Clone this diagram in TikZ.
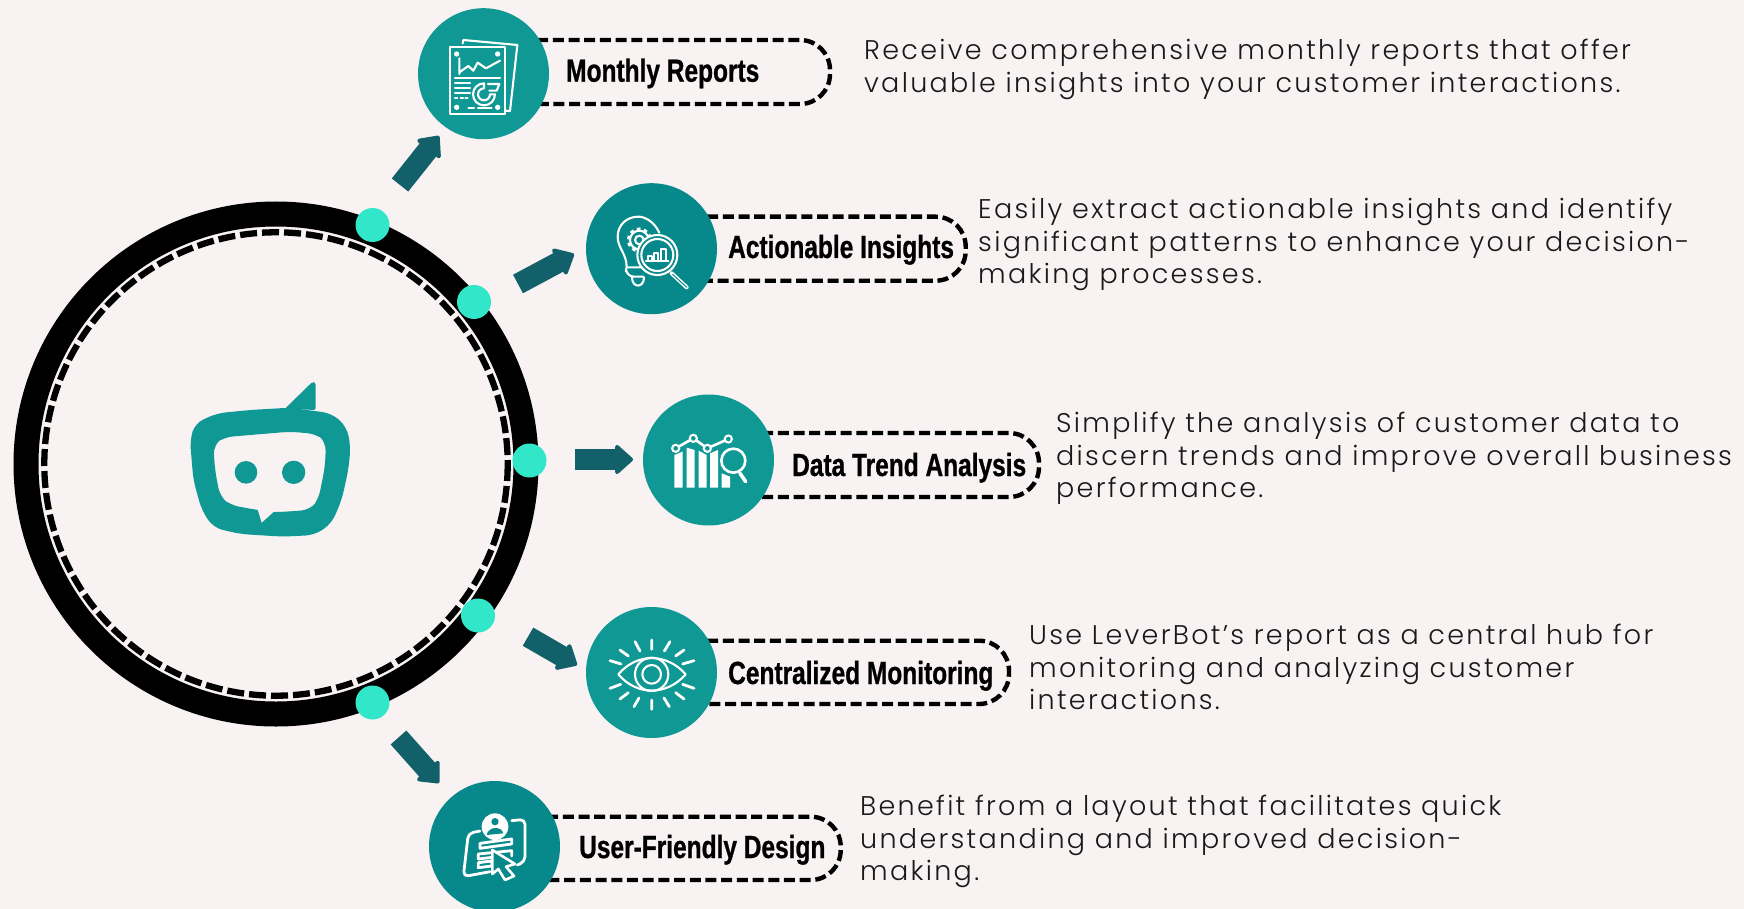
\documentclass[tikz,border=0pt]{standalone}
\usepackage{fontspec}
\usetikzlibrary{arrows.meta,calc}
\setmainfont{Poppins}
\newfontfamily\bodyfont[LetterSpace=8.5]{Poppins Light}
\newfontfamily\headfont[FakeStretch=0.765,FakeBold=0.8]{Liberation Sans Bold}
\definecolor{bgc}{HTML}{F8F2F3}
\definecolor{tealA}{HTML}{109895}
\definecolor{tealB}{HTML}{07888A}
\definecolor{dotc}{HTML}{31E6C9}
\definecolor{arrowc}{HTML}{12606A}
\tikzset{
  hub/.style={circle,minimum size=131pt,inner sep=0,draw=none},
  dotnode/.style={circle,minimum size=34pt,inner sep=0,fill=dotc},
  pill/.style={draw=black,line width=4.4pt,dash pattern=on 11pt off 4.7pt},
  headtxt/.style={anchor=base west,inner sep=0,font=\headfont\fontsize{32}{36}\selectfont,text=black},
  bodytxt/.style={anchor=north west,inner sep=0,align=left,text=black!90,font=\bodyfont\fontsize{27}{32.4}\selectfont},
  blockarrow/.style={draw=arrowc,line width=21pt,-{Triangle[length=19pt,width=33pt,round,line width=4pt,fill=arrowc]}},
  iconline/.style={draw=white,line width=2.1pt,line cap=round,line join=round},
  iconthick/.style={draw=white,line width=2.8pt,line cap=round,line join=round},
}
\newcommand{\pillpath}[4]{% start x, top, bottom, right
  \draw[pill,rounded corners=30pt] (#1,#2) -- (#4,#2) -- (#4,#3) -- (#1,#3);}
\begin{document}
\begin{tikzpicture}[x=1pt,y=-1pt]
\path[use as bounding box,fill=bgc] (0,0) rectangle (1744,909);

% ring
\coordinate (ringc) at (276,464);
\draw[black,line width=25pt] (ringc) circle[radius=250];
\draw[black,line width=6.3pt,dash pattern=on 17pt off 5pt] (ringc) circle[radius=231.7];

% logo
\begin{scope}[shift={(150,360)},scale=1/3]
\fill[tealA,even odd rule,rounded corners=9pt]
 (545,160) -- (590,200) -- (602,260) -- (595,330) -- (575,420) -- (545,490) -- (495,525) -- (400,530) -- (270,522) -- (190,503) -- (155,450) -- (130,360) -- (120,240) -- (135,190) -- (200,160) -- (300,150) -- (420,143) -- cycle
 (190,255) -- (220,232) -- (300,225) -- (420,215) -- (500,222) -- (528,245) -- (525,320) -- (505,420) -- (480,450) -- (375,457) -- (322,450) -- (240,435) -- (210,410) -- (195,330) -- cycle;
\fill[tealA,rounded corners=2pt] (405,146) -- (488,65) -- (497,67) -- (497,150) -- cycle;
\fill[bgc] (322,445) -- (335,488) -- (375,452) -- cycle;
\fill[tealA] (288,337) circle[radius=34] (431,337) circle[radius=35];
\end{scope}

% pills
\pillpath{490}{40}{104}{830}
\pillpath{660}{216.7}{280.7}{965.7}
\pillpath{715}{433}{497}{1039}
\pillpath{660}{640.7}{704}{1009}
\pillpath{500}{816.7}{880}{840.7}

% hubs
\node[hub,fill=tealA] (h1) at (483.5,73.7) {};
\node[hub,fill=tealB] (h2) at (651.5,248.7) {};
\node[hub,fill=tealA] (h3) at (708.5,460) {};
\node[hub,fill=tealA] (h4) at (651.5,672.5) {};
\node[hub,fill=tealB] (h5) at (494.5,846.5) {};

% dots
\node[dotnode] (d1) at (372.5,225) {};
\node[dotnode] (d2) at (474,302) {};
\node[dotnode] (d3) at (529.5,460.5) {};
\node[dotnode] (d4) at (478,615.5) {};
\node[dotnode] (d5) at (372.5,702.5) {};

% arrows
\coordinate (a1s) at (400,185); \coordinate (a1e) at (439,136);
\coordinate (a2s) at (518,284); \coordinate (a2e) at (574,254);
\coordinate (a3s) at (575,459.5); \coordinate (a3e) at (633,459.5);
\coordinate (a4s) at (528,636.7); \coordinate (a4e) at (577,665);
\coordinate (a5s) at (398.5,737.5); \coordinate (a5e) at (439,783);
\draw[blockarrow] (a1s) -- (a1e);
\draw[blockarrow] (a2s) -- (a2e);
\draw[blockarrow] (a3s) -- (a3e);
\draw[blockarrow] (a4s) -- (a4e);
\draw[blockarrow] (a5s) -- (a5e);

% icon 1
\begin{scope}[shift={(400,0)},scale=1/3]
\draw[iconline] (188,130) -- (190,120) -- (352,135) -- (330,333) -- (316,332);
\draw[iconline] (150,142) rectangle (315,343);
\fill[white] (170,162) circle[radius=8] (293,162) circle[radius=8] (170,322) circle[radius=8] (293,322) circle[radius=8];
\draw[iconline] (178,175) -- (178,222) (178,217) -- (205,198) -- (220,212) -- (233,188) -- (258,205) -- (300,182);
\draw[iconline] (165,234) -- (300,234) (165,248) -- (210,248) (165,263) -- (210,263) (165,278) -- (210,278);
\draw[iconline] (165,295) -- (172,295) (182,295) -- (189,295) (196,295) -- (203,295);
\draw[iconline] (205,325) -- (222,325) (234,325) -- (275,325);
\draw[iconline] (252,250) arc[start angle=270,end angle=0,radius=33] -- (270,283) arc[start angle=0,end angle=270,radius=18] -- cycle;
\draw[iconline] (264,252) -- (298,252) -- (290,272) -- (268,272);
\end{scope}

% icon 2
\begin{scope}[shift={(570,170)},scale=1/3]
\draw[iconline] (268,188) .. controls (250,150) and (220,140) .. (205,140) .. controls (170,140) and (143,165) .. (143,200) .. controls (143,235) and (170,250) .. (170,292);
\draw[iconline,rounded corners=8pt] (170,292) -- (215,292) (168,305) -- (168,320) -- (220,320);
\draw[iconline] (186,322) .. controls (186,355) and (222,355) .. (222,322);
\draw[white,line width=3pt,dash pattern=on 3.6pt off 3.4pt] (208,210) circle[radius=33];
\draw[iconline] (208,210) circle[radius=28] (208,210) circle[radius=13];
\fill[tealB] (262,255) circle[radius=60];
\draw[iconline] (262,255) circle[radius=60] (262,255) circle[radius=48];
\draw[white,line width=4pt,line cap=round] (305,310) -- (350,352);
\draw[tealB,line width=1pt,line cap=round] (308,313) -- (350,352);
\draw[iconline] (228,272) -- (295,272) (233,272) |- (245,258) -- (245,272) (252,272) |- (265,248) -- (265,272) (273,272) |- (288,238) -- (288,272);
\end{scope}

% icon 3
\begin{scope}[shift={(560,400)},scale=1/3]
\fill[white] (343,263) -- (343,165) -- (368,155) -- (368,263) -- cycle
 (380,263) -- (380,143) -- (404,150) -- (404,263) -- cycle
 (416,263) -- (416,152) -- (440,165) -- (440,263) -- cycle
 (450,263) -- (450,160) -- (474,150) -- (474,263) -- cycle
 (485,263) -- (485,220) -- (510,230) -- (510,263) -- cycle;
\fill[tealA] (520,182) circle[radius=42];
\draw[white,line width=2.6pt] (347,145) -- (400,115) -- (442,145) -- (505,117);
\fill[white] (347,145) circle[radius=14] (400,115) circle[radius=14] (442,145) circle[radius=14] (505,117) circle[radius=14];
\fill[tealA] (347,145) circle[radius=7] (400,115) circle[radius=7] (442,145) circle[radius=7] (505,117) circle[radius=7];
\draw[white,line width=2.6pt] (520,182) circle[radius=36];
\draw[white,line width=3.6pt,line cap=round] (540,220) -- (557,245);
\end{scope}

% icon 4
\begin{scope}[shift={(510,590)},scale=1/3]
\draw[iconline] (325,253) .. controls (380,188) and (470,188) .. (527,253) .. controls (470,318) and (380,318) .. cycle;
\draw[iconline] (425,253) circle[radius=50] (425,253) circle[radius=28];
\draw[iconthick] (425,150) -- (425,178) (375,155) -- (390,183) (330,180) -- (355,198) (300,212) -- (333,222)
 (300,295) -- (332,283) (330,327) -- (355,308) (372,350) -- (387,324) (425,330) -- (425,358)
 (462,324) -- (478,350) (497,308) -- (522,327) (518,283) -- (552,295) (518,222) -- (552,212)
 (497,198) -- (522,180) (463,183) -- (480,155);
\end{scope}

% icon 5
\begin{scope}[shift={(380,720)},scale=1/3]
\draw[iconthick,rounded corners=5pt] (300,333) -- (265,340) -- (250,470) -- (330,455);
\draw[iconthick,rounded corners=5pt] (395,302) -- (435,298) -- (435,425) -- (412,435);
\fill[white] (345,320) circle[radius=40];
\fill[tealB] (345,305) circle[radius=11];
\fill[tealB] (320,345) .. controls (325,318) and (365,318) .. (370,340) -- cycle;
\draw[iconthick] (300,370) -- (395,357) -- (395,372) -- (300,385) -- cycle;
\draw[iconthick] (295,402) -- (395,392) -- (395,408) (295,402) -- (295,417) -- (345,411);
\draw[iconthick] (295,428) -- (335,423) -- (335,438) -- (295,443) -- cycle;
\filldraw[fill=tealB,draw=white,line width=2.6pt,line join=round] (337,390) -- (405,432) -- (378,440) -- (402,468) -- (375,480) -- (355,447) -- (337,462) -- cycle;
\end{scope}

% heads
\node[headtxt] (l1) at (566,81.7) {Monthly Reports};
\node[headtxt] (l2) at (728,258) {Actionable Insights};
\node[headtxt] (l3) at (792,476) {Data Trend Analysis};
\node[headtxt] (l4) at (728,684) {Centralized Monitoring};
\node[headtxt] (l5) at (579,858) {User-Friendly Design};

% bodies
\node[bodytxt] (t1) at (864,39) {Receive comprehensive monthly reports that offer\\valuable insights into your customer interactions.};
\node[bodytxt] (t2) at (978,198) {Easily extract actionable insights and identify\\significant patterns to enhance your decision-\\making processes.};
\node[bodytxt] (t3) at (1056,412) {Simplify the analysis of customer data to\\discern trends and improve overall business\\performance.};
\node[bodytxt] (t4) at (1029,624) {Use LeverBot’s report as a central hub for\\monitoring and analyzing customer\\interactions.};
\node[bodytxt] (t5) at (860,795) {Benefit from a layout that facilitates quick\\understanding and improved decision-\\making.};
\end{tikzpicture}
\end{document}
